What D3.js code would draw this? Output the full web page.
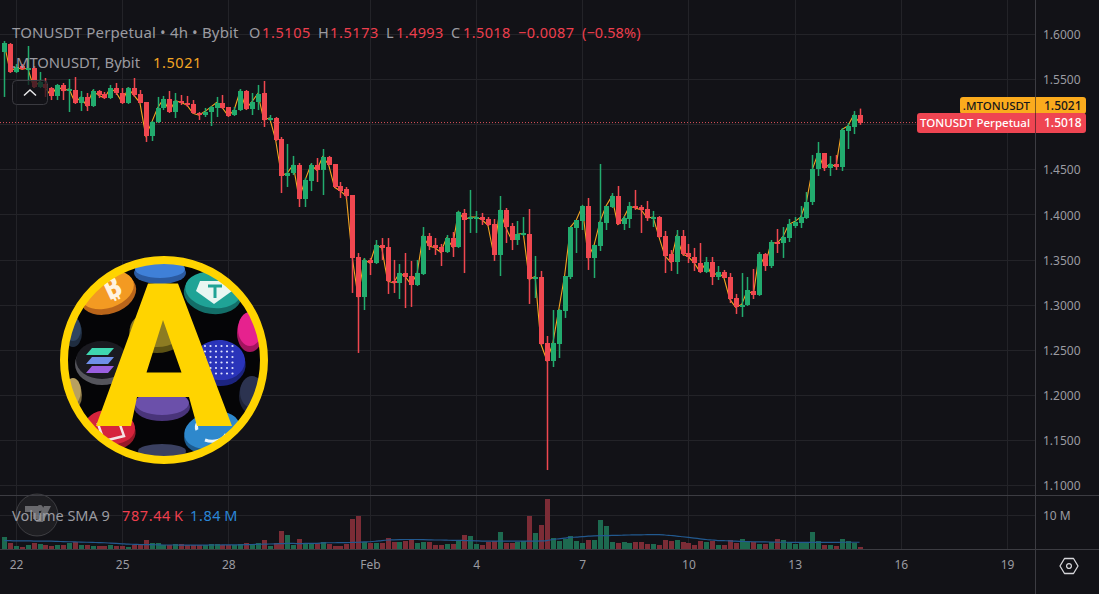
<!DOCTYPE html>
<html>
<head>
<meta charset="utf-8">
<title>TONUSDT Perpetual</title>
<script src="https://cdn.jsdelivr.net/npm/d3@7"></script>
<style>
  html, body { margin: 0; padding: 0; background: #121217; overflow: hidden; }
  svg { display: block; font-family: "Noto Sans", sans-serif; }
</style>
</head>
<body>
<svg id="chart" width="1099" height="594"></svg>
<script>
// 4h candles, the first one sits two candles before the "22" tick
var firstCandle = -2;

var opens = [1.5800,1.5889,1.5579,1.5645,1.5601,1.5623,1.5412,1.5446,1.5401,1.5313,1.5435,1.5379,1.5379,1.5235,1.5302,1.5202,1.5368,1.5335,1.5290,1.5401,1.5346,1.5235,1.5401,1.5335,1.5246,1.4869,1.5024,1.5180,1.5279,1.5135,1.5257,1.5235,1.5224,1.5124,1.5102,1.5135,1.5180,1.5235,1.5191,1.5102,1.5157,1.5368,1.5169,1.5246,1.5346,1.5047,1.5069,1.4836,1.4426,1.4459,1.4548,1.4171,1.4370,1.4548,1.4492,1.4636,1.4559,1.4315,1.4282,1.4215,1.3528,1.3084,1.3495,1.3461,1.3661,1.3639,1.3262,1.3240,1.3350,1.3317,1.3217,1.3339,1.3761,1.3661,1.3639,1.3583,1.3738,1.3639,1.4016,1.3960,1.3949,1.3971,1.3949,1.3894,1.3550,1.4049,1.3871,1.3716,1.3772,1.3783,1.3284,1.3306,1.2574,1.2375,1.2563,1.2929,1.3306,1.3849,1.3927,1.4093,1.3517,1.3650,1.3905,1.4082,1.4204,1.3894,1.3949,1.4093,1.4082,1.4060,1.3960,1.3971,1.3761,1.3561,1.3472,1.3761,1.3572,1.3528,1.3461,1.3362,1.3472,1.3306,1.3362,1.3306,1.3073,1.2974,1.2996,1.3151,1.3107,1.3561,1.3428,1.3694,1.3683,1.3738,1.3871,1.3905,1.3960,1.4138,1.4503,1.4681,1.4514,1.4559,1.4526,1.4925,1.4969,1.5105];
var highs = [1.5922,1.5900,1.5667,1.5667,1.5867,1.5645,1.5579,1.5512,1.5412,1.5446,1.5457,1.5501,1.5523,1.5368,1.5346,1.5390,1.5379,1.5357,1.5435,1.5457,1.5401,1.5412,1.5512,1.5379,1.5246,1.5036,1.5302,1.5313,1.5368,1.5346,1.5324,1.5313,1.5268,1.5135,1.5180,1.5202,1.5302,1.5324,1.5191,1.5191,1.5390,1.5379,1.5346,1.5435,1.5479,1.5102,1.5080,1.4858,1.4781,1.4648,1.4570,1.4404,1.4570,1.4625,1.4725,1.4648,1.4559,1.4359,1.4304,1.4215,1.3572,1.3517,1.3517,1.3716,1.3738,1.3738,1.3495,1.3450,1.3572,1.3484,1.3495,1.3860,1.3794,1.3738,1.3672,1.3772,1.3805,1.4038,1.4060,1.4271,1.4038,1.4016,1.3971,1.3949,1.4204,1.4071,1.3905,1.3927,1.3971,1.4060,1.3539,1.3373,1.2652,1.2940,1.2951,1.3317,1.3860,1.3938,1.4104,1.4182,1.3661,1.4559,1.4093,1.4237,1.4315,1.3982,1.4138,1.4271,1.4104,1.4149,1.4038,1.3982,1.3816,1.3605,1.3827,1.3827,1.3672,1.3628,1.3683,1.3528,1.3528,1.3428,1.3384,1.3350,1.3118,1.3350,1.3306,1.3395,1.3583,1.3572,1.3716,1.3838,1.3860,1.3949,1.3971,1.4093,1.4248,1.4659,1.4803,1.4681,1.4648,1.4659,1.4958,1.5013,1.5146,1.5173];
var lows = [1.5302,1.5568,1.5568,1.5601,1.5435,1.5401,1.5401,1.5302,1.5268,1.5268,1.5268,1.5135,1.5224,1.5146,1.5146,1.5191,1.5290,1.5279,1.5279,1.5324,1.5224,1.5224,1.5302,1.5235,1.4803,1.4814,1.5013,1.5157,1.5124,1.5069,1.5213,1.5191,1.5113,1.5047,1.5080,1.4980,1.5080,1.5169,1.5080,1.5091,1.5146,1.5157,1.5102,1.5157,1.4969,1.5036,1.4814,1.4237,1.4304,1.4437,1.4082,1.4082,1.4259,1.4359,1.4215,1.4548,1.4293,1.4182,1.4171,1.3129,1.2464,1.2940,1.3328,1.3450,1.3495,1.3118,1.3129,1.3062,1.2962,1.2974,1.3206,1.3328,1.3605,1.3550,1.3428,1.3572,1.3528,1.3628,1.3350,1.3794,1.3794,1.3883,1.3871,1.3484,1.3317,1.3683,1.3605,1.3661,1.3761,1.3007,1.3073,1.2552,1.1166,1.2308,1.2408,1.2852,1.3284,1.3572,1.3827,1.3384,1.3295,1.3594,1.3827,1.4071,1.3883,1.3827,1.3849,1.4049,1.3794,1.3927,1.3860,1.3738,1.3350,1.3373,1.3339,1.3539,1.3461,1.3373,1.3350,1.3350,1.3217,1.3273,1.3295,1.3018,1.2896,1.2863,1.2985,1.3062,1.3096,1.3373,1.3406,1.3572,1.3517,1.3694,1.3849,1.3849,1.3949,1.4104,1.4426,1.4481,1.4426,1.4492,1.4481,1.4725,1.4891,1.4993];
var closes = [1.5900,1.5579,1.5634,1.5612,1.5623,1.5412,1.5468,1.5401,1.5313,1.5435,1.5368,1.5390,1.5235,1.5302,1.5202,1.5368,1.5324,1.5290,1.5401,1.5346,1.5235,1.5401,1.5324,1.5235,1.4869,1.5024,1.5180,1.5279,1.5135,1.5257,1.5235,1.5213,1.5124,1.5102,1.5135,1.5191,1.5235,1.5180,1.5091,1.5157,1.5368,1.5169,1.5246,1.5335,1.5047,1.5069,1.4825,1.4426,1.4459,1.4548,1.4171,1.4381,1.4548,1.4492,1.4636,1.4548,1.4304,1.4259,1.4204,1.3517,1.3084,1.3495,1.3461,1.3661,1.3628,1.3262,1.3240,1.3350,1.3306,1.3217,1.3350,1.3761,1.3650,1.3628,1.3583,1.3738,1.3639,1.4027,1.3938,1.3971,1.3971,1.3938,1.3883,1.3550,1.4049,1.3860,1.3716,1.3783,1.3794,1.3284,1.3306,1.2563,1.2375,1.2574,1.2940,1.3317,1.3860,1.3938,1.4093,1.3517,1.3661,1.3916,1.4093,1.4204,1.3894,1.3960,1.4093,1.4071,1.4049,1.3960,1.3971,1.3749,1.3539,1.3472,1.3761,1.3561,1.3528,1.3461,1.3362,1.3472,1.3306,1.3362,1.3295,1.3062,1.2974,1.2996,1.3162,1.3107,1.3561,1.3428,1.3694,1.3683,1.3749,1.3894,1.3916,1.3971,1.4138,1.4503,1.4681,1.4514,1.4559,1.4526,1.4936,1.4980,1.5102,1.5018];
// .MTONUSDT mark line
var markPrices = [1.590,1.558,1.563,1.561,1.562,1.541,1.547,1.540,1.531,1.543,1.537,1.539,1.524,1.530,1.520,1.537,1.532,1.529,1.540,1.535,1.524,1.540,1.532,1.524,1.487,1.502,1.518,1.528,1.514,1.526,1.524,1.521,1.512,1.510,1.514,1.519,1.524,1.518,1.509,1.516,1.537,1.517,1.525,1.534,1.505,1.507,1.483,1.443,1.446,1.455,1.417,1.438,1.455,1.449,1.464,1.455,1.430,1.426,1.420,1.352,1.308,1.350,1.346,1.366,1.363,1.326,1.324,1.335,1.331,1.322,1.335,1.376,1.365,1.363,1.358,1.374,1.364,1.403,1.394,1.397,1.397,1.394,1.388,1.355,1.405,1.386,1.372,1.378,1.379,1.328,1.331,1.256,1.238,1.257,1.294,1.332,1.386,1.394,1.409,1.352,1.366,1.392,1.409,1.420,1.389,1.396,1.409,1.407,1.405,1.396,1.397,1.375,1.354,1.347,1.376,1.356,1.353,1.346,1.336,1.347,1.331,1.336,1.330,1.306,1.297,1.300,1.316,1.311,1.356,1.343,1.369,1.368,1.375,1.389,1.392,1.397,1.414,1.450,1.468,1.451,1.456,1.453,1.494,1.498,1.510,1.5021];
// volume in millions
var volumes = [3.68,1.94,0.97,0.68,1.26,1.94,1.55,1.26,1.07,1.26,1.26,1.74,2.03,1.36,1.36,0.97,1.07,1.07,1.16,1.07,0.97,0.68,1.36,1.36,2.71,1.74,1.74,1.26,1.16,1.55,1.55,1.16,1.26,1.16,1.16,1.45,1.45,1.26,1.16,1.26,1.45,1.74,1.45,1.74,2.71,0.97,1.74,5.33,4.17,1.26,3.00,1.45,1.55,1.94,2.13,1.45,0.97,1.07,1.45,8.82,9.79,2.23,1.74,1.74,1.94,3.20,2.23,2.23,2.52,2.71,1.94,2.13,2.13,1.26,1.16,1.55,1.55,2.52,4.17,3.88,1.55,1.26,2.13,2.42,5.04,1.94,1.94,2.23,2.42,9.79,4.85,7.07,14.63,3.20,2.52,3.10,3.78,2.52,1.94,2.71,2.71,8.53,6.78,2.23,1.94,2.23,1.94,2.23,2.23,1.65,1.65,1.26,2.71,2.52,2.71,2.23,1.94,1.26,2.52,2.23,2.52,1.26,1.26,2.62,1.94,2.91,2.42,2.23,1.55,1.55,2.23,3.00,2.71,2.23,1.55,1.94,2.23,5.14,2.42,1.26,1.26,1.07,2.91,2.42,1.94,0.787];
var volumeSma = [2.55,2.55,2.5,2.5,2.5,2.45,2.45,2.4,2.4,2.35,2.3,2.25,2.2,2.15,2.1,2.05,2.0,1.95,1.85,1.75,1.65,1.55,1.5,1.45,1.4,1.4,1.35,1.3,1.3,1.3,1.28,1.27,1.26,1.26,1.28,1.3,1.3,1.32,1.32,1.34,1.36,1.4,1.45,1.5,1.55,1.6,1.65,1.7,1.75,1.75,1.7,1.75,1.75,1.8,1.9,1.95,1.95,2.0,2.0,2.05,2.1,2.2,2.25,2.4,2.6,2.75,2.8,2.85,2.9,2.9,2.9,2.85,2.8,2.75,2.75,2.7,2.65,2.65,2.6,2.55,2.5,2.45,2.45,2.45,2.45,2.4,2.4,2.4,2.4,2.45,2.45,2.5,2.6,2.9,3.1,3.3,3.5,3.6,3.75,3.85,3.95,4.0,4.0,4.1,4.1,4.15,4.2,4.25,4.25,4.3,4.3,4.3,4.2,4.05,3.9,3.7,3.5,3.3,3.1,2.9,2.75,2.6,2.55,2.5,2.4,2.35,2.3,2.25,2.2,2.2,2.15,2.1,2.1,2.1,2.05,2.05,2.05,2.05,2.05,2.05,2.05,2.05,2.1,2.1,2.1,2.1];

var priceTicks = [1.1,1.15,1.2,1.25,1.3,1.35,1.4,1.45,1.5,1.55,1.6];
// 1.5000 has a grid line but its label is hidden behind the last price tag
var priceAxisTicks = [1.1,1.15,1.2,1.25,1.3,1.35,1.4,1.45,1.55,1.6];
var timeTicks = [0,18,36,60,78,96,114,132,150,168];
var timeLabels = ['22','25','28','Feb','4','7','10','13','16','19'];
var volumeTicks = [10];

// decoration, the round logo on top of the chart
var logoCoins = [
    {x: 160, y: 270, rx: 26, ry: 11, rot: 0, fill: '#3f80d8', rim: '#2b5aa0'},
    {x: 107, y: 291, rx: 29, ry: 20, rot: -18, fill: '#f39a22', rim: '#b9651a'},
    {x: 213, y: 291, rx: 29, ry: 20, rot: 8, fill: '#1fa396', rim: '#136e68'},
    {x: 157, y: 330, rx: 28, ry: 20, rot: 0, fill: '#8d7c22', rim: '#5c5214'},
    {x: 250, y: 330, rx: 13, ry: 19, rot: 0, fill: '#e6228e', rim: '#a3155f'},
    {x: 73, y: 330, rx: 9, ry: 14, rot: 0, fill: '#2f4560', rim: '#1f2d40'},
    {x: 102, y: 361, rx: 27, ry: 21, rot: 0, fill: '#1a1a20', rim: '#55555c'},
    {x: 220, y: 361, rx: 26, ry: 22, rot: 6, fill: '#2a34ba', rim: '#1c2480'},
    {x: 73, y: 392, rx: 9, ry: 15, rot: 0, fill: '#b8a060', rim: '#7d6c40'},
    {x: 252, y: 393, rx: 13, ry: 18, rot: 0, fill: '#2c3350', rim: '#1d2236'},
    {x: 162, y: 404, rx: 28, ry: 14, rot: 0, fill: '#6b50aa', rim: '#49347a'},
    {x: 110, y: 428, rx: 26, ry: 19, rot: 6, fill: '#d6243c', rim: '#961828'},
    {x: 212, y: 431, rx: 29, ry: 20, rot: -14, fill: '#2e88cc', rim: '#1d5c90'},
    {x: 162, y: 452, rx: 25, ry: 9, rot: 0, fill: '#3a4060', rim: '#262a40'}
];

var COLORS = {
    grid: '#232328',
    axisLine: '#3c3c42',
    text: '#9b9ba1',
    up: '#22ab6e',
    down: '#f0474f',
    upVol: '#1d6a50',
    downVol: '#7c2c36',
    mark: '#f5a623',
    sma: '#22598f',
    legendRed: '#ee3f4e',
    legendBlue: '#2a86d6',
    logo: '#ffd400'
};

var svg = d3.select('#chart');

var xScale = d3.scaleLinear().domain([0, 168]).range([16, 1007]);
var priceScale = d3.scaleLinear().domain([1.1, 1.6]).range([485, 34]);
var volumeScale = d3.scaleLinear().domain([0, 10]).range([549.5, 515]);
var candleX = function (i) { return Math.round(xScale(i + firstCandle)); };

/////////////////GRID////////////////////////////
var grid = svg.append('g').attr('shape-rendering', 'crispEdges');
grid.selectAll('line.v').data(timeTicks).enter().append('line')
    .attr('x1', function (d) { return Math.round(xScale(d)) + .5; })
    .attr('x2', function (d) { return Math.round(xScale(d)) + .5; })
    .attr('y1', 0).attr('y2', 549).attr('stroke', COLORS.grid);
grid.selectAll('line.h').data(priceTicks).enter().append('line')
    .attr('x1', 0).attr('x2', 1035)
    .attr('y1', function (d) { return Math.round(priceScale(d)) + .5; })
    .attr('y2', function (d) { return Math.round(priceScale(d)) + .5; })
    .attr('stroke', COLORS.grid);
grid.selectAll('line.vol').data(volumeTicks).enter().append('line')
    .attr('x1', 0).attr('x2', 1035)
    .attr('y1', function (d) { return Math.round(volumeScale(d)) + .5; })
    .attr('y2', function (d) { return Math.round(volumeScale(d)) + .5; })
    .attr('stroke', COLORS.grid);

/////////////////WATERMARK////////////////////////////
var wm = svg.append('g').attr('transform', 'translate(37,515)');
wm.append('circle').attr('r', 21).attr('fill', 'rgba(60,60,66,.28)').attr('stroke', 'rgba(255,255,255,.16)');
wm.append('path').attr('d', 'M-12,-9H2V4H-4V-3H-12ZM3,-4A3,3 0 1 1 3.01,-4ZM7,-9H14L6,7H-1Z').attr('fill', 'rgba(210,210,215,.42)');

/////////////////VOLUME PANE////////////////////////////
svg.append('g').attr('shape-rendering', 'crispEdges').selectAll('rect').data(volumes).enter().append('rect')
    .attr('x', function (d, i) { return candleX(i) - 2; })
    .attr('width', 5)
    .attr('y', function (d) { return volumeScale(d); })
    .attr('height', function (d) { return volumeScale(0) - volumeScale(d); })
    .attr('fill', function (d, i) { return closes[i] >= opens[i] ? COLORS.upVol : COLORS.downVol; });

svg.append('path').datum(volumeSma)
    .attr('fill', 'none').attr('stroke', COLORS.sma).attr('stroke-width', 1.2)
    .attr('d', d3.line()
        .x(function (d, i) { return xScale(i + firstCandle); })
        .y(function (d) { return volumeScale(d); })
        .curve(d3.curveMonotoneX));

/////////////////PRICE PANE////////////////////////////
svg.append('clipPath').attr('id', 'priceClip').append('rect')
    .attr('width', 1035).attr('height', 495);
var pricePane = svg.append('g').attr('clip-path', 'url(#priceClip)');

// last price line
pricePane.append('line')
    .attr('x1', 0).attr('x2', 1035)
    .attr('y1', priceScale(closes[closes.length - 1]))
    .attr('y2', priceScale(closes[closes.length - 1]))
    .attr('stroke', '#d8505a').attr('stroke-dasharray', '1 2');

pricePane.append('path').datum(markPrices)
    .attr('fill', 'none').attr('stroke', COLORS.mark).attr('stroke-width', 1.1)
    .attr('d', d3.line()
        .x(function (d, i) { return xScale(i + firstCandle); })
        .y(function (d) { return priceScale(d); }));

var candleColor = function (d, i) { return closes[i] >= opens[i] ? COLORS.up : COLORS.down; };
var candles = pricePane.append('g');
// a bit over one pixel, plain 1px wicks lose their colour in the photo
candles.selectAll('rect.wick').data(closes).enter().append('rect')
    .attr('class', 'wick')
    .attr('x', function (d, i) { return candleX(i) - .25; })
    .attr('width', 1.5)
    .attr('y', function (d, i) { return priceScale(highs[i]); })
    .attr('height', function (d, i) { return priceScale(lows[i]) - priceScale(highs[i]); })
    .attr('fill', candleColor);
candles.selectAll('rect.body').data(closes).enter().append('rect')
    .attr('class', 'body')
    .attr('shape-rendering', 'crispEdges')
    .attr('x', function (d, i) { return candleX(i) - 2; })
    .attr('width', 5)
    .attr('y', function (d, i) { return priceScale(Math.max(opens[i], closes[i])); })
    .attr('height', function (d, i) { return Math.max(1.5, Math.abs(priceScale(opens[i]) - priceScale(closes[i]))); })
    .attr('fill', candleColor);

/////////////////PANE BORDERS////////////////////////////
var borders = svg.append('g').attr('shape-rendering', 'crispEdges').attr('stroke', COLORS.axisLine);
borders.append('line').attr('x1', 0).attr('x2', 1099).attr('y1', 495.5).attr('y2', 495.5);
borders.append('line').attr('x1', 0).attr('x2', 1099).attr('y1', 549.5).attr('y2', 549.5);
borders.append('line').attr('x1', 1035.5).attr('x2', 1035.5).attr('y1', 0).attr('y2', 594);

/////////////////AXES////////////////////////////
var styleAxis = function (g) {
    g.select('.domain').remove();
    g.selectAll('text').attr('fill', COLORS.text).attr('font-size', 12).attr('font-family', '"Noto Sans", sans-serif');
};

var priceAxis = d3.axisRight(priceScale).tickValues(priceAxisTicks).tickFormat(d3.format('.4f')).tickSize(0).tickPadding(0);
svg.append('g').attr('transform', 'translate(1043,0.8)').call(priceAxis).call(styleAxis);

var volumeAxis = d3.axisRight(volumeScale).tickValues(volumeTicks).tickFormat(function (d) { return d + ' M'; }).tickSize(0).tickPadding(0);
svg.append('g').attr('transform', 'translate(1043,0.8)').call(volumeAxis).call(styleAxis);

var timeAxis = d3.axisBottom(xScale).tickValues(timeTicks)
    .tickFormat(function (d, i) { return timeLabels[i]; }).tickSize(0).tickPadding(0);
svg.append('g').attr('transform', 'translate(0,560)').call(timeAxis).call(styleAxis);

// settings hexagon
var gear = svg.append('g').attr('transform', 'translate(1069,566)').attr('fill', 'none').attr('stroke', '#d6d6da').attr('stroke-width', 1.3);
gear.append('path').attr('d', 'M-4.5,-7.5H4.5L9,0L4.5,7.5H-4.5L-9,0Z').attr('stroke-linejoin', 'round');
gear.append('circle').attr('r', 2.4);

/////////////////LEGENDS////////////////////////////
function addLegend(y, parts) {
    var t = svg.append('text').attr('y', y);
    parts.forEach(function (p) {
        t.append('tspan').attr('x', p.x).attr('fill', p.color)
            .attr('font-size', p.size || 14.5).attr('letter-spacing', p.spacing || 0).text(p.text);
    });
}

addLegend(38, [
    {x: 12, text: 'TONUSDT Perpetual \u2022 4h \u2022 Bybit', color: COLORS.text, size: 15, spacing: .15},
    {x: 249, text: 'O', color: COLORS.text},
    {x: 262, text: '1.5105', color: COLORS.legendRed, spacing: .6},
    {x: 318, text: 'H', color: COLORS.text},
    {x: 330, text: '1.5173', color: COLORS.legendRed, spacing: .6},
    {x: 386, text: 'L', color: COLORS.text},
    {x: 396, text: '1.4993', color: COLORS.legendRed, spacing: .4},
    {x: 451, text: 'C', color: COLORS.text},
    {x: 463, text: '1.5018', color: COLORS.legendRed, spacing: .4},
    {x: 518, text: '\u22120.0087', color: COLORS.legendRed, spacing: .4},
    {x: 582, text: '(\u22120.58%)', color: COLORS.legendRed, spacing: .1}
]);
addLegend(68, [
    {x: 12, text: '.MTONUSDT, Bybit', color: COLORS.text, size: 14.8},
    {x: 153, text: '1.5021', color: COLORS.mark, spacing: .6}
]);
addLegend(521, [
    {x: 12, text: 'Volume SMA 9', color: COLORS.text},
    {x: 122, text: '787.44\u2009K', color: COLORS.legendRed, spacing: .6},
    {x: 190, text: '1.84\u2009M', color: COLORS.legendBlue, spacing: .6}
]);

// collapse button
var collapseBtn = svg.append('g').attr('transform', 'translate(12,80)');
collapseBtn.append('rect').attr('x', .5).attr('y', .5).attr('width', 35).attr('height', 24).attr('rx', 4)
    .attr('fill', 'rgba(18,18,23,.72)').attr('stroke', '#3a3a40');
collapseBtn.append('path').attr('d', 'M12,15.5L18,10L24,15.5').attr('fill', 'none').attr('stroke', '#e8e8ea').attr('stroke-width', 1.5);

/////////////////PRICE LABELS////////////////////////////
function priceLabel(x, y, h, fill, textColor, name, value) {
    svg.append('rect').attr('x', x).attr('y', y).attr('width', 1086 - x).attr('height', h).attr('rx', 3).attr('fill', fill);
    svg.append('line').attr('x1', 1035.5).attr('x2', 1035.5).attr('y1', y).attr('y2', y + h).attr('stroke', 'rgba(19,19,24,.55)');
    svg.append('text').attr('x', 1030).attr('y', y + h / 2 + 4).attr('text-anchor', 'end')
        .attr('font-size', 11.5).attr('font-weight', 500).attr('fill', textColor).text(name);
    svg.append('text').attr('x', 1044).attr('y', y + h / 2 + 4)
        .attr('font-size', 12).attr('font-weight', 500).attr('fill', textColor).text(value);
}
priceLabel(960, 97, 17, '#fbab1d', '#17171b', '.MTONUSDT', d3.format('.4f')(markPrices[markPrices.length - 1]));
priceLabel(917, 113, 20, '#ef4552', '#ffffff', 'TONUSDT Perpetual', d3.format('.4f')(closes[closes.length - 1]));

/////////////////LOGO////////////////////////////
svg.append('clipPath').attr('id', 'logoClip').append('circle').attr('cx', 164).attr('cy', 360).attr('r', 100);
var logo = svg.append('g');
logo.append('circle').attr('cx', 164).attr('cy', 360).attr('r', 100).attr('fill', '#050507');
var coins = logo.append('g').attr('clip-path', 'url(#logoClip)');
logoCoins.forEach(function (c) {
    var g = coins.append('g').attr('transform', 'translate(' + c.x + ',' + c.y + ') rotate(' + c.rot + ')');
    g.append('ellipse').attr('cy', 3).attr('rx', c.rx).attr('ry', c.ry).attr('fill', c.rim);
    g.append('ellipse').attr('cy', -1).attr('rx', c.rx - 1).attr('ry', c.ry - 2).attr('fill', c.fill);
});
// coin faces: bitcoin, tether, solana bars, cardano dots, red and blue marks
coins.append('text').attr('x', 113).attr('y', 298).attr('font-size', 30).attr('font-weight', 700)
    .attr('fill', '#fff3e0').attr('text-anchor', 'middle').attr('transform', 'rotate(-25 113 290)').text('\u20bf');
coins.append('path').attr('d', 'M200,281H226L232,291L214,304L196,291Z').attr('fill', '#e8f6f2');
coins.append('path').attr('d', 'M208,286H222M215,286V298').attr('stroke', '#1fa396').attr('stroke-width', 3);
[['#3fd6b0', 348], ['#6f8fe8', 357], ['#9a5fe0', 366]].forEach(function (b) {
    coins.append('path').attr('d', 'M' + 92 + ',' + b[1] + 'l22,0l-6,7l-22,0Z').attr('fill', b[0]);
});
d3.range(0, 6).forEach(function (r) {
    d3.range(0, 6).forEach(function (c) {
        coins.append('circle').attr('cx', 205 + c * 5.5).attr('cy', 346 + r * 5.5).attr('r', 1.1).attr('fill', '#dfe2ff');
    });
});
coins.append('path').attr('d', 'M98,424L118,419L124,436L104,441Z').attr('fill', 'none').attr('stroke', '#f4e3e5').attr('stroke-width', 2.5);
coins.append('path').attr('d', 'M197,430A12,9 0 0 1 220,424M205,440A14,9 0 0 0 226,434').attr('fill', 'none').attr('stroke', '#e8f4fb').attr('stroke-width', 3);
logo.append('circle').attr('cx', 164).attr('cy', 360).attr('r', 100)
    .attr('fill', 'none').attr('stroke', COLORS.logo).attr('stroke-width', 8);
logo.append('path').attr('fill', COLORS.logo).attr('fill-rule', 'evenodd')
    .attr('d', 'M148,283.5H178L232,426H197L189,397H137L131,426H96ZM163,320L146.5,372.5H181.5Z');
</script>
</body>
</html>
